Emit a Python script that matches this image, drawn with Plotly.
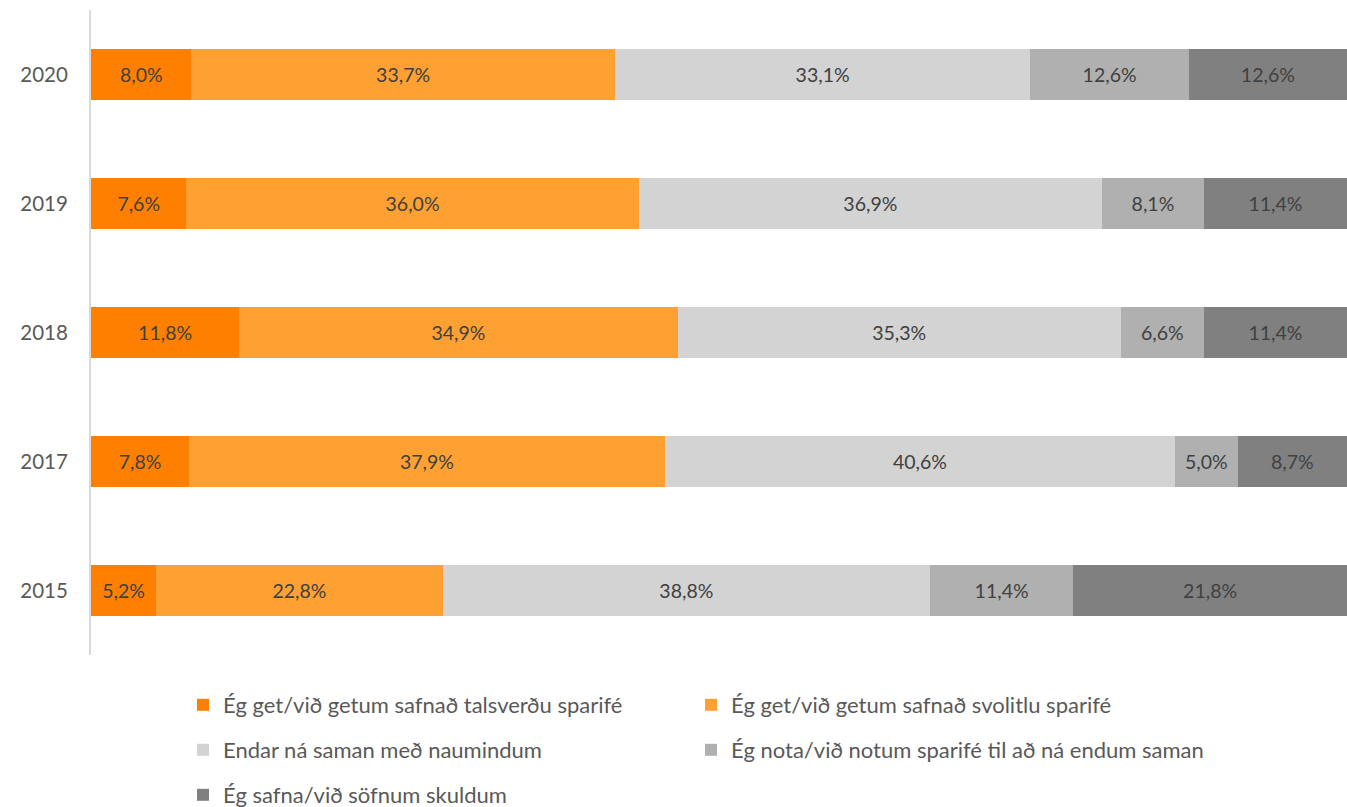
import plotly.graph_objects as go

years = ["2020", "2019", "2018", "2017", "2015"]
series_names = [
    "Ég get/við getum safnað talsverðu sparifé",
    "Ég get/við getum safnað svolitlu sparifé",
    "Endar ná saman með naumindum",
    "Ég nota/við notum sparifé til að ná endum saman",
    "Ég safna/við söfnum skuldum",
]
talsvert = [8.0, 7.6, 11.8, 7.8, 5.2]
svolitid = [33.7, 36.0, 34.9, 37.9, 22.8]
naumindum = [33.1, 36.9, 35.3, 40.6, 38.8]
nota_sparife = [12.6, 8.1, 6.6, 5.0, 11.4]
skuldir = [12.6, 11.4, 11.4, 8.7, 21.8]
colors = ["#FF8000", "#FFA033", "#D3D3D3", "#B0B0B0", "#808080"]

font_name = "Lato"
text_color = "#404040"

# one legend per entry, laid out as two columns below the plot
legend_ids = ["legend", "legend2", "legend3", "legend4", "legend5"]
legend_pos = [(183, 705), (691, 705), (183, 750), (691, 750), (183, 795)]

fig = go.Figure()
all_values = [talsvert, svolitid, naumindum, nota_sparife, skuldir]
for name, vals, col, lg in zip(series_names, all_values, colors, legend_ids):
    fig.add_trace(go.Bar(
        x=vals, y=years, orientation="h", name=name,
        marker=dict(color=col, line=dict(width=0)),
        texttemplate="%{x:.1f}%", textposition="inside",
        insidetextanchor="middle", textangle=0,
        constraintext="none",
        textfont=dict(family=font_name, size=19.5, color=text_color),
        legend=lg, showlegend=True,
    ))

leg_common = dict(
    orientation="h", xref="container", yref="container",
    xanchor="left", yanchor="middle",
    font=dict(family=font_name, size=22, color="#595959"),
    bgcolor="rgba(0,0,0,0)",
)
legends = {
    lg: dict(leg_common, x=px / 1347, y=1 - py / 807)
    for lg, (px, py) in zip(legend_ids, legend_pos)
}

fig.update_layout(
    width=1347, height=807,
    showlegend=True,
    barmode="stack", bargap=0.6,
    separators=",.",
    plot_bgcolor="white", paper_bgcolor="white",
    margin=dict(l=91, r=0, t=10, b=152),
    xaxis=dict(range=[0, 100], visible=False, showgrid=False),
    yaxis=dict(
        type="category", categoryorder="array",
        categoryarray=years[::-1],
        showline=True, linecolor="#D9D9D9", linewidth=2,
        showgrid=False, zeroline=False, ticks="",
        ticklabelstandoff=17,
        tickfont=dict(family=font_name, size=20.5, color="#595959"),
    ),
    **legends,
)

fig.write_html("out.html", config={"displayModeBar": False},
               post_script="document.body.style.margin='0';")
